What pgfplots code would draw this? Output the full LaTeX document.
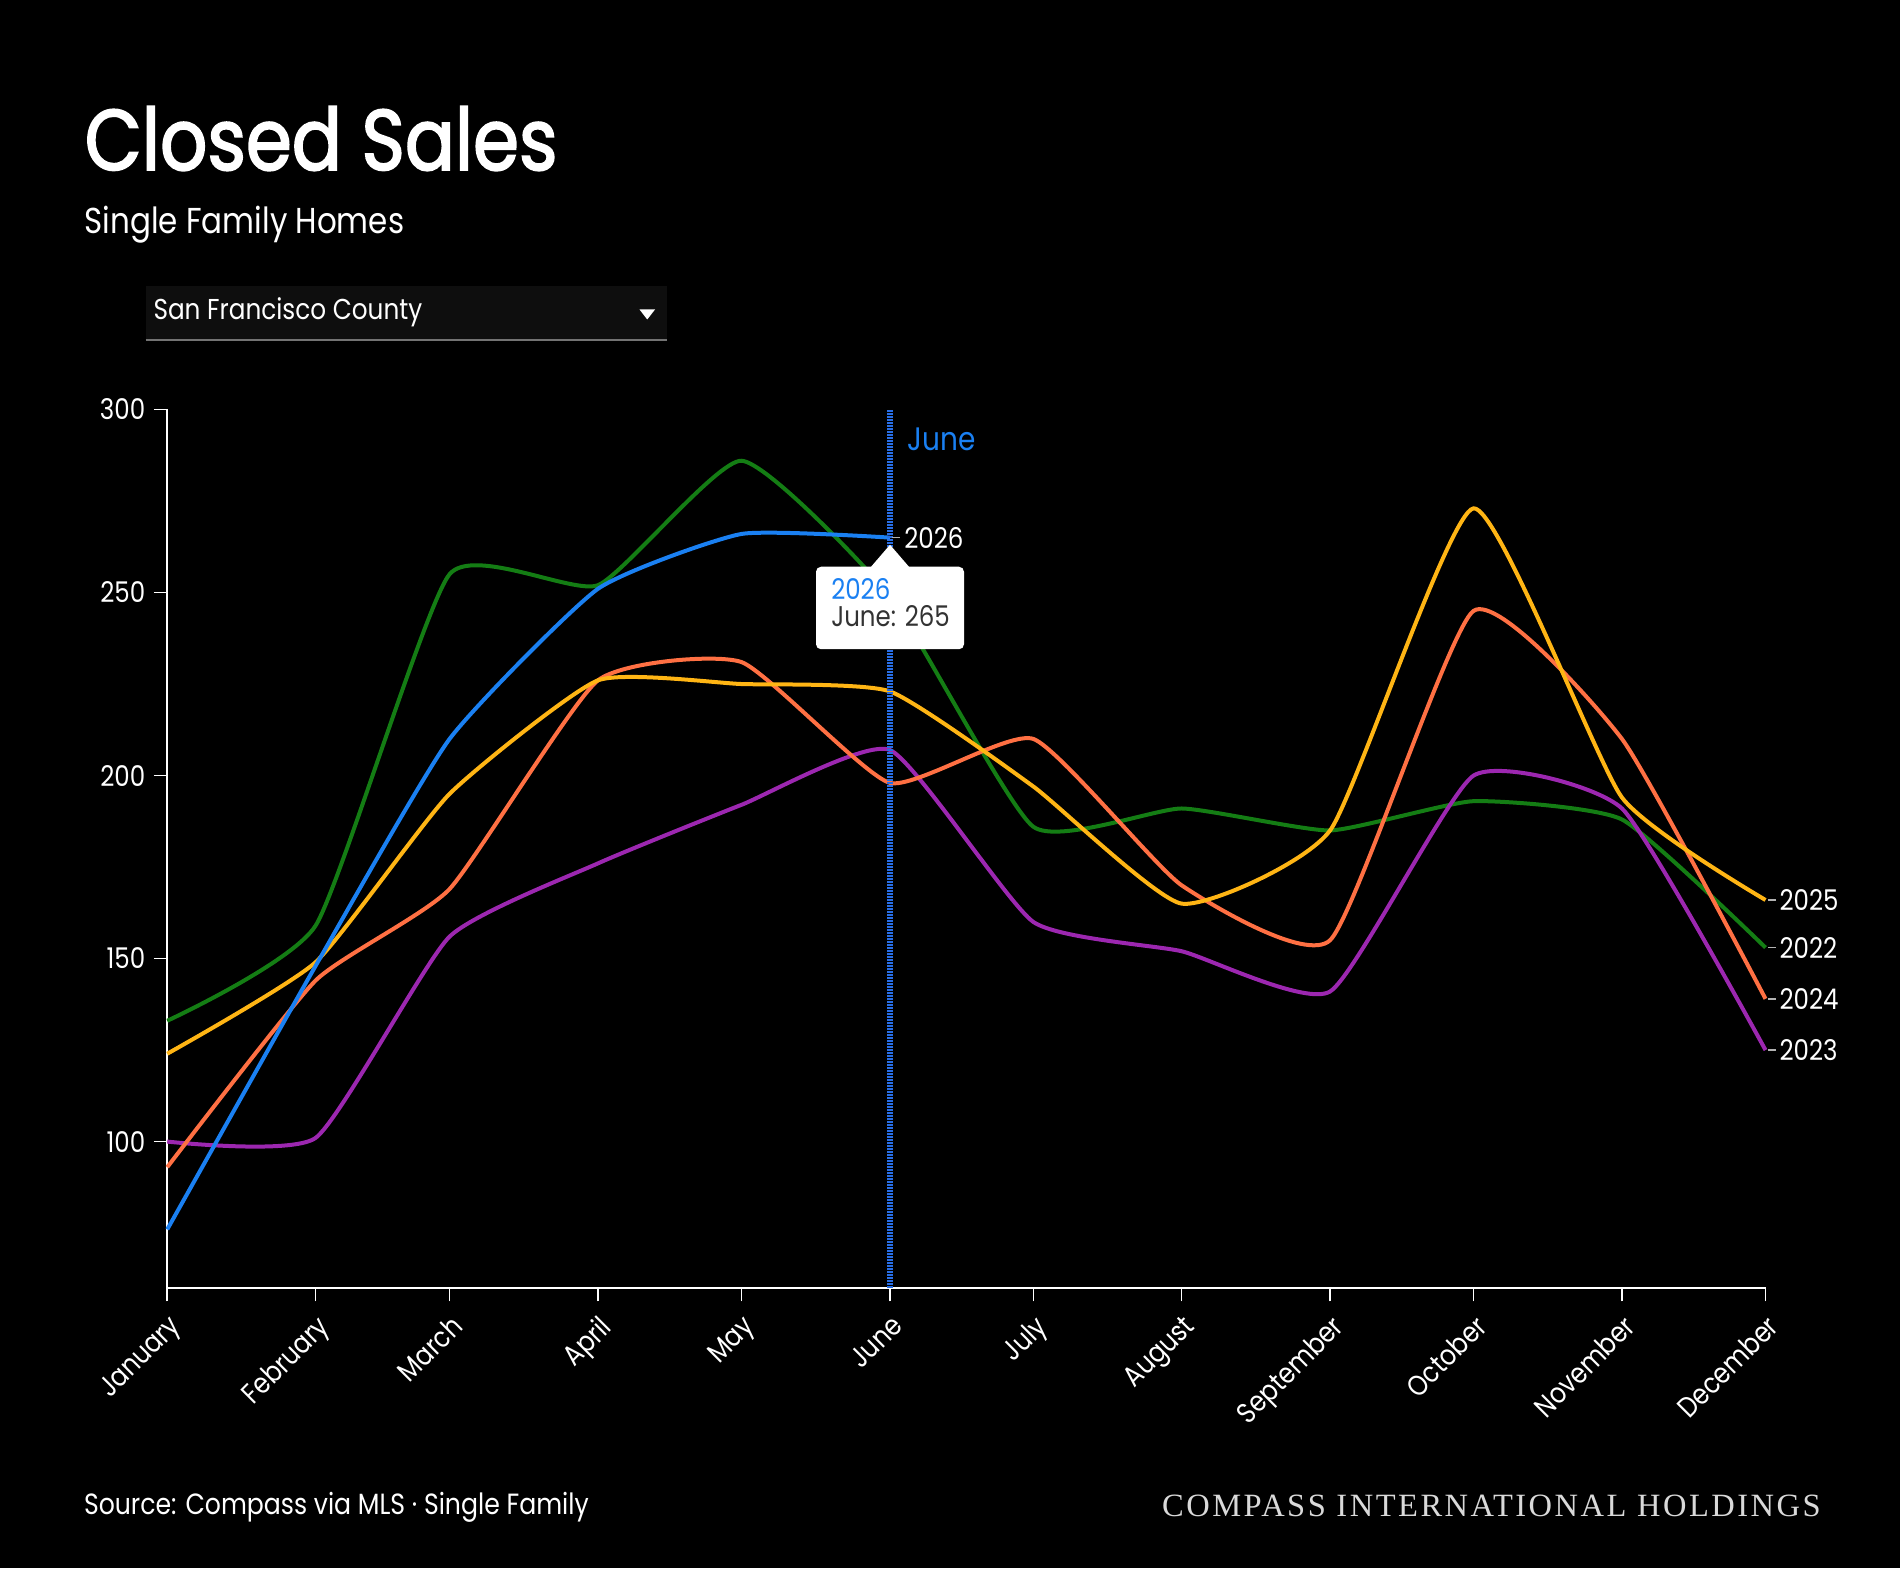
\documentclass[border=0pt]{standalone}
\usepackage{fontspec}
\setmainfont{Poppins}[FakeStretch=0.86]
\newfontfamily\titlefont{Poppins}[FakeStretch=0.86, FakeBold=2]
\newfontfamily\brandfont{Liberation Serif}[LetterSpace=7.7]
\usepackage{pgfplots}
\pgfplotsset{compat=1.18}
\definecolor{c22}{RGB}{20,125,20}
\definecolor{c23}{RGB}{156,39,176}
\definecolor{c24}{RGB}{255,112,67}
\definecolor{c25}{RGB}{255,181,20}
\definecolor{c26}{RGB}{26,128,242}
\definecolor{junecol}{RGB}{40,110,230}
\definecolor{dropbg}{RGB}{14,14,14}
\definecolor{tipgray}{RGB}{51,51,51}
\newcommand\tickfont{\fontsize{11.4}{13}\selectfont}
\tikzset{endlab/.style={anchor=west, inner sep=0, text=white, font=\tickfont},
  enddash/.style={white!70!black, line width=0.6pt}}
\begin{document}
\begin{tikzpicture}
\fill[black] (0,0) rectangle (760pt,627.2pt);
\path[use as bounding box] (0,0) rectangle (760pt,627.2pt);
\node[anchor=base west, white, inner sep=0, font=\titlefont\fontsize{34.4}{40}\selectfont] at (33.7pt,559.2pt) {Closed Sales};
\node[anchor=base west, white, inner sep=0, font=\fontsize{14.4}{16}\selectfont] at (33.7pt,533.9pt) {Single Family Homes};
\fill[dropbg] (58.2pt,490.7pt) rectangle (266.8pt,512.8pt);
\draw[white!45!black, line width=0.8pt] (58.2pt,491.1pt) -- (266.8pt,491.1pt);
\node[anchor=base west, white, inner sep=0, font=\fontsize{11.5}{13}\selectfont] at (61.2pt,499.2pt) {San Francisco County};
\fill[white] (255.8pt,503.4pt) -- (262pt,503.4pt) -- (258.9pt,499.4pt) -- cycle;
\begin{axis}[
  at={(66.9pt,112pt)}, anchor=south west, scale only axis,
  width=639.3pt, height=351.4pt,
  xmin=0, xmax=334, ymin=60, ymax=300,
  axis lines=left,
  axis line style={white, -, line width=0.6pt},
  tick style={white, line width=0.6pt},
  major tick length=5.3pt, tick align=outside,
  xtick={0,31,59,90,120,151,181,212,243,273,304,334},
  xticklabels={January,February,March,April,May,June,July,August,September,October,November,December},
  ytick={100,150,200,250,300},
  /pgf/number format/assume math mode=true,
  ticklabel style={font=\tickfont, text=white},
  x tick label style={rotate=45, anchor=north east},
  clip=false,
  every axis plot/.append style={line width=1.6pt, smooth, tension=0.3, mark=none},
]
\addplot[c22] coordinates {(0,133) (31,159) (59,255) (90,252) (120,286) (151,249) (181,186) (212,191) (243,185) (273,193) (304,188) (334,153)};
\addplot[c23] coordinates {(0,100) (31,101) (59,156) (90,176) (120,192) (151,207) (181,160) (212,152) (243,141) (273,200) (304,191) (334,125)};
\addplot[c24] coordinates {(0,93) (31,144) (59,169) (90,226) (120,231) (151,198) (181,210) (212,170) (243,155) (273,245) (304,210) (334,139)};
\addplot[c25] coordinates {(0,124) (31,149) (59,195) (90,226) (120,225) (151,223) (181,197) (212,165) (243,185) (273,273) (304,194) (334,166)};
\addplot[c26] coordinates {(0,76) (31,148) (59,210) (90,251) (120,266) (151,265)};
\draw[junecol, line width=2.4pt, dash pattern=on 0.7pt off 0.5pt] (axis cs:151,60) -- (axis cs:151,300);
\node[anchor=base west, inner sep=0, text=c26, font=\fontsize{13}{15}\selectfont, xshift=7pt] at (axis cs:151,288.7) {June};
\draw[enddash] ([xshift=1pt]axis cs:151,265) -- ++(3pt,0pt);
\node[endlab] at ([xshift=5.6pt]axis cs:151,265) {2026};
\draw[enddash] ([xshift=1pt]axis cs:334,166) -- ++(3pt,0pt);
\node[endlab] at ([xshift=5.4pt]axis cs:334,166) {2025};
\draw[enddash] ([xshift=1pt]axis cs:334,153) -- ++(3pt,0pt);
\node[endlab] at ([xshift=5.4pt]axis cs:334,153) {2022};
\draw[enddash] ([xshift=1pt]axis cs:334,139) -- ++(3pt,0pt);
\node[endlab] at ([xshift=5.4pt]axis cs:334,139) {2024};
\draw[enddash] ([xshift=1pt]axis cs:334,125) -- ++(3pt,0pt);
\node[endlab] at ([xshift=5.4pt]axis cs:334,125) {2023};
\end{axis}
% tooltip
\fill[white, rounded corners=2pt] (326.4pt,367.5pt) rectangle (385.6pt,400.5pt);
\fill[white] (348pt,400pt) -- (356pt,409.3pt) -- (364pt,400pt) -- cycle;
\node[anchor=base west, inner sep=0, text=c26, font=\tickfont] at (332.3pt,387.2pt) {2026};
\node[anchor=base west, inner sep=0, text=tipgray, font=\tickfont] at (332.3pt,376.5pt) {June: 265};
% footer
\node[anchor=base west, inner sep=0, text=white, font=\fontsize{11.7}{13}\selectfont] at (33.4pt,21.6pt) {Source: Compass via MLS · Single Family};
\node[anchor=base east, inner sep=0, text=white!85!black, font=\brandfont\fontsize{13}{15}\selectfont] at (728.5pt,20.8pt) {COMPASS INTERNATIONAL HOLDINGS};
\end{tikzpicture}
\end{document}
